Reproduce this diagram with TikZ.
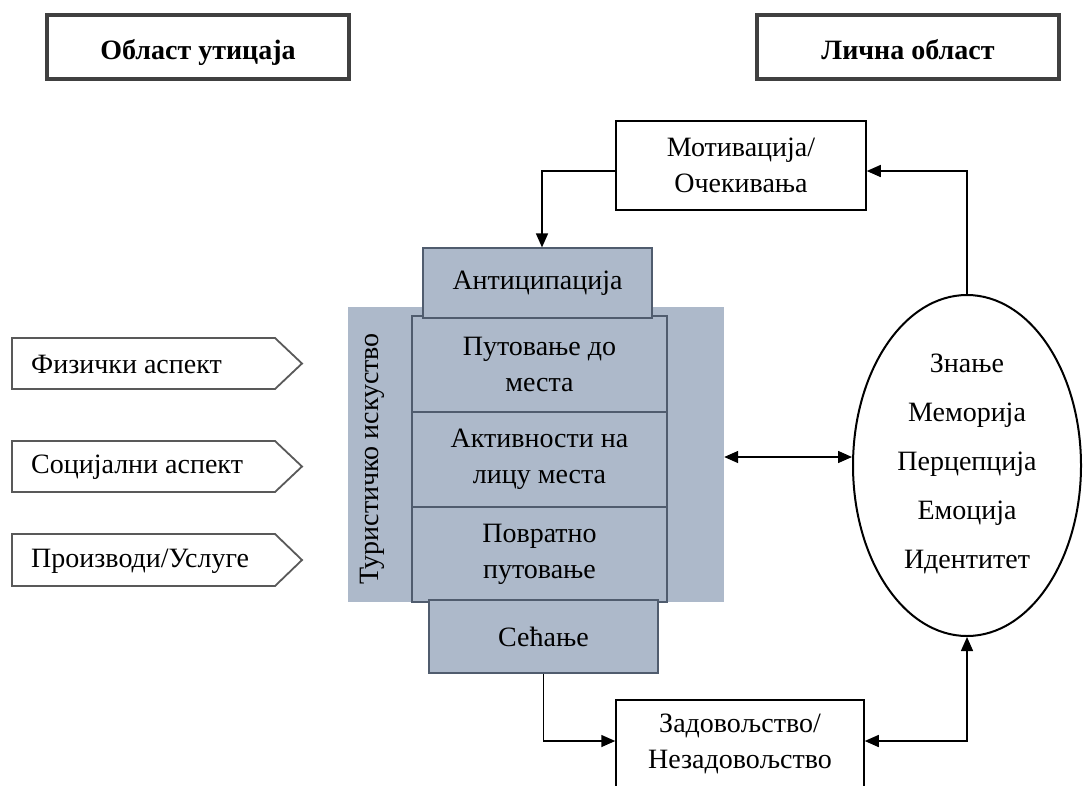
\documentclass[tikz,border=0pt]{standalone}
\usepackage{fontspec}
\setmainfont{Liberation Serif}
\usetikzlibrary{arrows.meta,shapes.geometric,calc}
\definecolor{bg}{HTML}{ADB9CA}
\definecolor{stk}{HTML}{505C6E}
\definecolor{ttl}{HTML}{404040}
\definecolor{asp}{HTML}{595959}
\begin{document}
\begin{tikzpicture}[x=1pt,y=-1pt,
  every node/.style={font=\fontsize{28}{36}\selectfont, inner sep=0pt, align=center},
  titlebox/.style={draw=ttl, line width=3.3pt, minimum width=302pt, minimum height=64pt,
    text height=25pt, text depth=0pt,
    font=\fontsize{28}{36}\selectfont\bfseries},
  plainbox/.style={draw=black, line width=1.5pt},
  stage/.style={draw=stk, line width=1.2pt, fill=bg},
  aspline/.style={draw=asp, line width=1.8pt, line join=miter},
  conn/.style={line width=1.5pt, -{Triangle[length=14pt,width=12pt]}},
  dconn/.style={line width=1.5pt, {Triangle[length=14pt,width=12pt]}-{Triangle[length=14pt,width=12pt]}}
]
\useasboundingbox (0,0) rectangle (1083,785);

% titles
\node[titlebox] (t1) at (198,47) {Област утицаја};
\node[titlebox] (t2) at (908,47) {Лична област};

% motivation
\node[plainbox, minimum width=250pt, minimum height=89pt] (mot) at (741,165.5) {Мотивација/\\Очекивања};

% left aspects
\draw[aspline] (12,338) -- (275,338) -- (302,363.5) -- (275,389) -- (12,389) -- cycle;
\node[anchor=west] (a1) at (31,364.5) {Физички аспект};
\draw[aspline] (12,441) -- (275,441) -- (302,466.5) -- (275,492) -- (12,492) -- cycle;
\node[anchor=west] (a2) at (31,467.5) {Социјални аспект};
\draw[aspline] (12,534) -- (275,534) -- (302,560) -- (275,586) -- (12,586) -- cycle;
\node[anchor=west] (a3) at (31,561) {Производи/Услуге};

% central panel
\node[fill=bg, minimum width=376pt, minimum height=295pt] (panel) at (536,454.5) {};
\node[rotate=90] (tour) at (372,459) {Туристичко искуство};
\node[stage, minimum width=255pt, minimum height=96pt] (s1) at (539.5,364) {Путовање до\\места};
\node[stage, minimum width=255pt, minimum height=95pt] (s2) at (539.5,459.5) {Активности на\\лицу места};
\node[stage, minimum width=255pt, minimum height=95pt] (s3) at (539.5,554.5) {Повратно\\путовање};
\node[stage, minimum width=229pt, minimum height=70pt] (ant) at (537.5,283) {Антиципација};
\node[stage, minimum width=229pt, minimum height=73pt] (sec) at (543.5,636.5) {Сећање};

% ellipse
\node[ellipse, draw=black, line width=2pt, minimum width=228pt, minimum height=341pt] (ell) at (967,465.5) {};
\node[font=\fontsize{28}{49}\selectfont] (know) at (967,464) {Знање\\Меморија\\Перцепција\\Емоција\\Идентитет};

% satisfaction
\node[plainbox, minimum width=248pt, minimum height=87pt] (sat) at (740,743.5) {Задовољство/\\Незадовољство};

% connectors
\coordinate (mid) at (790,457);
\draw[conn] ($(mot.west)+(0,5.5)$) -| ($(ant.north)+(4.5,0)$);
\draw[conn] (ell.north) |- ($(mot.east)+(0,5.5)$);
\draw[dconn] (panel.east |- mid) -- (ell.west |- mid);
\draw[conn] (sec.south) |- ($(sat.west)+(0,-2.5)$);
\draw[dconn] (ell.south) |- ($(sat.east)+(0,-2.5)$);
\end{tikzpicture}
\end{document}
